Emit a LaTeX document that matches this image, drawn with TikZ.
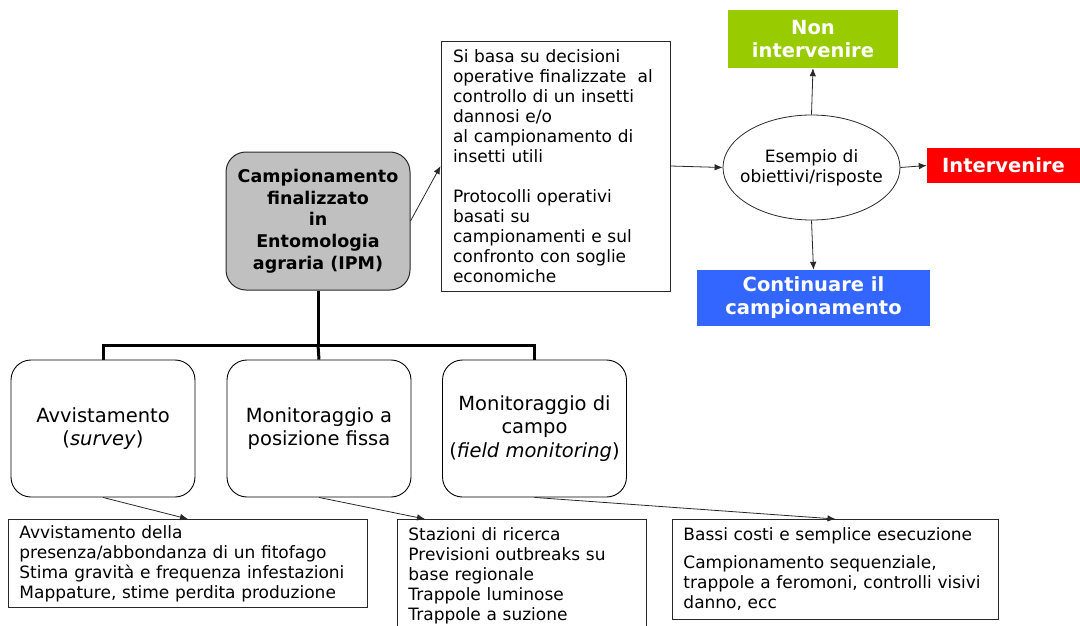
\documentclass[tikz,border=0pt]{standalone}
\usepackage{fontspec}
\setmainfont{DejaVu Sans}
\usetikzlibrary{arrows.meta,shapes.geometric}
\definecolor{cgreen}{RGB}{153,204,0}
\definecolor{cred}{RGB}{255,0,0}
\definecolor{cblue}{RGB}{51,102,255}
\definecolor{cgray}{RGB}{192,192,192}
\definecolor{cline}{RGB}{40,40,40}
\begin{document}
\begin{tikzpicture}[x=1pt,y=-1pt,
  reg/.style={font=\fontsize{17}{20}\selectfont},
  big/.style={font=\fontsize{19.5}{23.5}\selectfont},
  txtbox/.style={draw=cline,line width=0.9pt,rectangle,inner sep=0pt,reg,align=left},
  rbox/.style={draw=black,line width=0.9pt,rounded corners=20pt,minimum width=184pt,minimum height=137pt,inner sep=0pt,big,align=center},
  colbox/.style={inner sep=0pt,text=white,font=\bfseries\fontsize{19.5}{23}\selectfont,align=center},
  arr/.style={draw=cline,line width=0.8pt,-{Latex[length=8pt,width=6.5pt]}},
  tree/.style={line width=3pt,draw=black}
]
\useasboundingbox (0,0) rectangle (1080,626);

% central box
\node[draw=cline,line width=1pt,fill=cgray,rounded corners=20pt,minimum width=184pt,minimum height=138pt,inner sep=0pt,align=center,font=\bfseries\fontsize{17.5}{21.7}\selectfont] (center) at (318,221)
  {Campionamento\\finalizzato\\in\\Entomologia\\agraria (IPM)};

% right description box
\node[txtbox,minimum width=229pt,minimum height=250pt,text width=205pt] (rtext) at (555.5,166)
  {Si basa su decisioni\\operative finalizzate\ \ al\\controllo di un insetti\\dannosi e/o\\al campionamento di\\insetti utili\\[20pt]Protocolli operativi\\basati su\\campionamenti e sul\\confronto con soglie\\economiche};

% ellipse
\node[draw=cline,line width=0.8pt,ellipse,minimum width=177pt,minimum height=105pt,inner xsep=-20pt,inner ysep=0pt,align=center,reg] (ell) at (811.5,167.5)
  {Esempio di\\obiettivi/risposte};

% coloured outcome boxes
\node[colbox,fill=cgreen,minimum width=170pt,minimum height=58pt] (green) at (813,39) {Non\\intervenire};
\node[colbox,fill=cred,minimum width=153pt,minimum height=35pt] (red) at (1003.5,165.5) {Intervenire};
\node[colbox,fill=cblue,minimum width=233pt,minimum height=56pt] (blue) at (813.5,298) {Continuare il\\campionamento};

% arrows top part
\draw[arr] (center.east) -- (rtext.west);
\draw[arr] (rtext.east) -- (ell.west);
\draw[arr] (ell.north) -- (green.south);
\draw[arr] (ell.east) -- (red.west);
\draw[arr] (ell.south) -- (blue.north);

% three sampling boxes
\node[rbox] (b1) at (103,428.5) {Avvistamento\\(\textit{survey})};
\node[rbox] (b2) at (319,428.5) {Monitoraggio a\\posizione fissa};
\node[rbox] (b3) at (534.5,428.5) {Monitoraggio di\\campo\\(\textit{field monitoring})};

% tree connector
\coordinate (j) at (318,345);
\draw[tree] (center.south) -- (j);
\draw[tree] (b1.north) |- (j) -| (b3.north);
\draw[tree] (j) -- (b2.north);

% bottom text boxes
\node[txtbox,anchor=north west,minimum width=359pt,minimum height=88pt,text width=337pt] (bt1) at (8,519)
  {Avvistamento della\\presenza/abbondanza di un fitofago\\Stima gravità e frequenza infestazioni\\Mappature, stime perdita produzione};
\node[txtbox,anchor=north west,minimum width=249pt,text width=227pt,inner ysep=8pt] (bt2) at (397,519)
  {Stazioni di ricerca\\Previsioni outbreaks su\\base regionale\\Trappole luminose\\Trappole a suzione\\[6pt]\mbox{}};
\node[txtbox,anchor=north west,minimum width=326pt,minimum height=100pt,text width=304pt] (bt3) at (672,519)
  {Bassi costi e semplice esecuzione\\[8pt]Campionamento sequenziale,\\trappole a feromoni, controlli visivi\\danno, ecc};

% lower arrows
\draw[arr] (b1.south) -- (bt1.north);
\draw[arr] (b2.south) -- ([xshift=28pt]bt2.north west);
\draw[arr] (b3.south) -- (bt3.north);
\end{tikzpicture}
\end{document}
